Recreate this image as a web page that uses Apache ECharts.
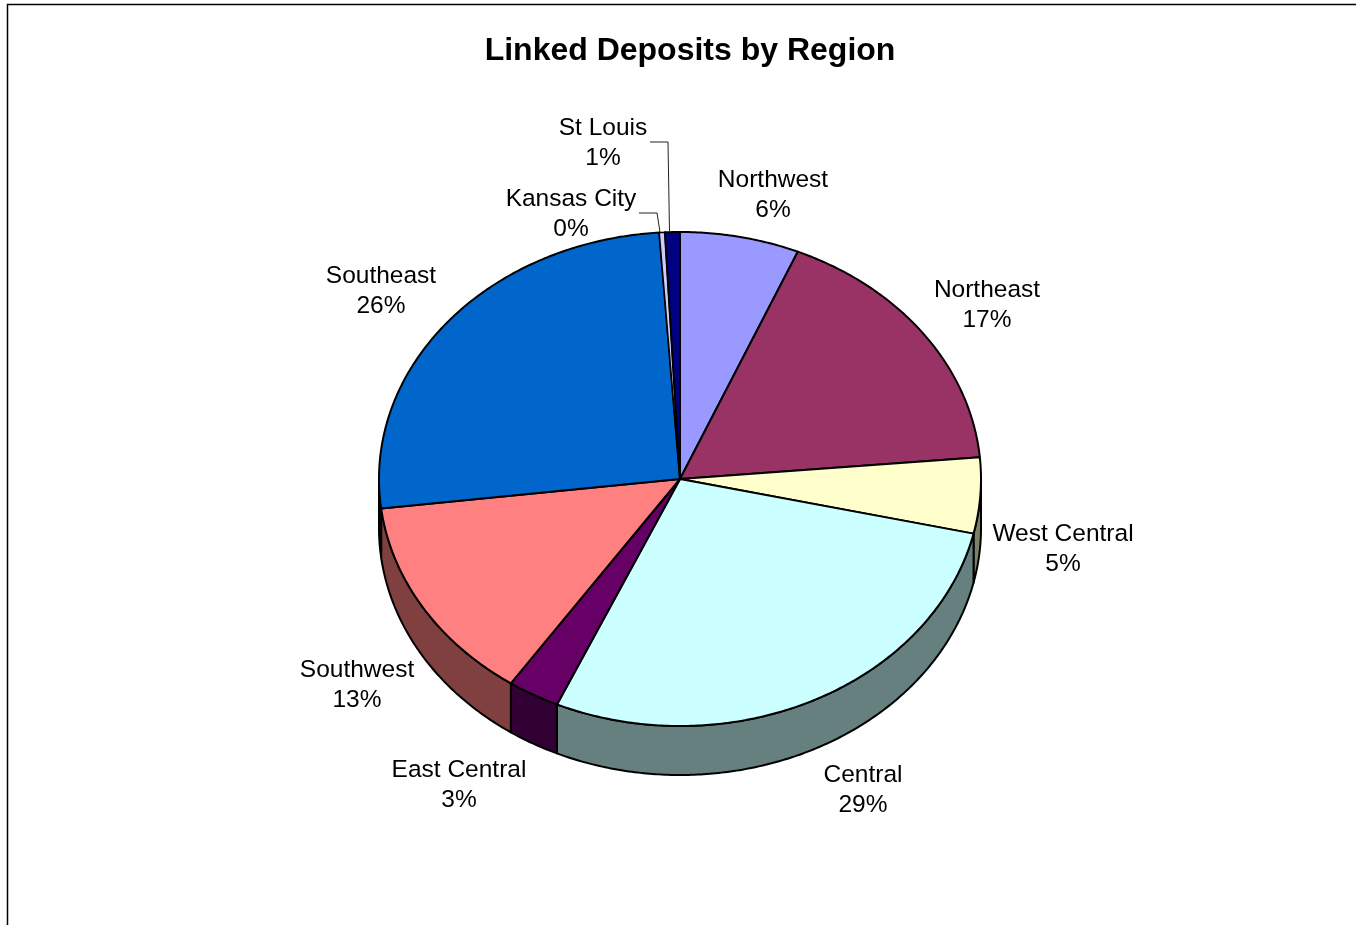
<!DOCTYPE html>
<html><head><meta charset="utf-8">
<style>html,body{margin:0;padding:0;background:#fff}#c{width:1356px;height:925px}</style>
<script src="https://cdn.jsdelivr.net/npm/echarts@6/dist/echarts.min.js"></script>
</head><body><div id="c"></div>
<script>
const categories = ['Northwest','Northeast','West Central','Central','East Central','Southwest','Southeast','Kansas City','St Louis'];
const values = [6.4, 17.2, 4.95, 28.15, 2.8, 13.6, 25.8, 0.3, 0.8];
const percentLabels = ['6%','17%','5%','29%','3%','13%','26%','0%','1%'];
const topColors = ['#9999FF','#993366','#FFFFCC','#CCFFFF','#660066','#FF8080','#0066CC','#CCCCFF','#000080'];
const sideColors = ['#4D4D80','#4D1A33','#808066','#668080','#330033','#804040','#003366','#666680','#000040'];

const PIE = {cx:680, cy:479, rx:301, ry:247, depth:49};
const LABEL_POS = [[773,195],[987,305],[1063,549],[863,790],[459,785],[357,685],[381,291],[571,214],[603,143]];
const LEADERS = {7:[[639,213],[657,213],[660,232]], 8:[[650,142],[668,142],[669.5,232]]};

const total = values.reduce((a,b)=>a+b,0);
const bounds = [0];
values.forEach(v=>bounds.push(bounds[bounds.length-1]+v/total*Math.PI*2));
const pt = (t,dy)=>[PIE.cx+PIE.rx*Math.sin(t), PIE.cy-PIE.ry*Math.cos(t)+(dy||0)];
function arc(t1,t2,dy){
  const n=Math.max(2,Math.ceil((t2-t1)/0.01)), out=[];
  for(let i=0;i<=n;i++) out.push(pt(t1+(t2-t1)*i/n,dy));
  return out;
}
const idx=categories.map((c,i)=>i);

const option={
  animation:false,
  backgroundColor:'#fff',
  title:{text:'Linked Deposits by Region',left:685,top:30,textAlign:'center',
    textStyle:{fontFamily:'Liberation Sans',fontSize:32,fontWeight:'bold',color:'#000'}},
  graphic:[{type:'polyline',silent:true,shape:{points:[[7.5,925],[7.5,4.5],[1356,4.5]]},style:{stroke:'#000',lineWidth:1.5,fill:null}}],
  series:[
    {type:'custom',coordinateSystem:'none',silent:true,data:idx,z:2,clip:false,
     renderItem(params,api){
       const i=api.value(0);
       const a=Math.max(bounds[i],Math.PI/2), b=Math.min(bounds[i+1],Math.PI*1.5);
       if(b<=a) return {type:'group',children:[]};
       const pts=arc(a,b,0).concat(arc(a,b,PIE.depth).reverse());
       return {type:'polygon',shape:{points:pts},style:{fill:sideColors[i],stroke:'#000',lineWidth:2,lineJoin:'round'}};
     }},
    {type:'custom',coordinateSystem:'none',silent:true,data:idx,z:3,clip:false,
     renderItem(params,api){
       const i=api.value(0);
       const pts=[[PIE.cx,PIE.cy]].concat(arc(bounds[i],bounds[i+1],0));
       return {type:'polygon',shape:{points:pts},style:{fill:topColors[i],stroke:'#000',lineWidth:i===7?1.5:2,lineJoin:'round'}};
     }},
    {type:'custom',coordinateSystem:'none',silent:true,data:idx,z:4,clip:false,
     renderItem(params,api){
       const i=api.value(0), ch=[];
       const [x,y]=LABEL_POS[i];
       ch.push({type:'text',style:{x:x,y:y-15,text:categories[i],fill:'#000',align:'center',verticalAlign:'middle',
         font:'24.5px "Liberation Sans"'}});
       ch.push({type:'text',style:{x:x,y:y+15,text:percentLabels[i],fill:'#000',align:'center',verticalAlign:'middle',
         font:'24.5px "Liberation Sans"'}});
       if(LEADERS[i]) ch.push({type:'polyline',shape:{points:LEADERS[i]},style:{stroke:'#222',lineWidth:1,fill:null}});
       return {type:'group',children:ch};
     }}
  ]
};
echarts.init(document.getElementById('c')).setOption(option);
</script></body></html>
